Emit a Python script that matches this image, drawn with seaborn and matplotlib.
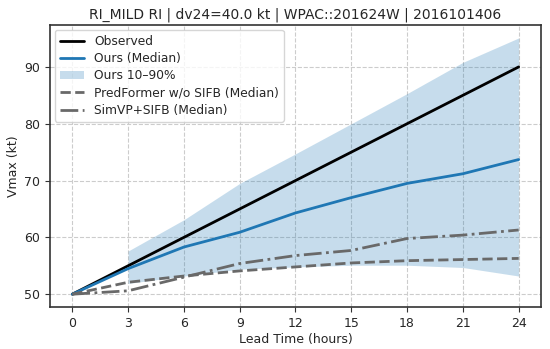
import numpy as np
import pandas as pd
import matplotlib
matplotlib.use("Agg")
import matplotlib.pyplot as plt
import seaborn as sns

lead = [0, 3, 6, 9, 12, 15, 18, 21, 24]
observed = [50, 55, 60, 65, 70, 75, 80, 85, 90]
ours_median = [50, 54.5, 58.3, 60.9, 64.3, 67.0, 69.5, 71.2, 73.7]
band_lead = [3, 6, 9, 12, 15, 18, 21, 24]
ours_p10 = [51.9, 53.2, 54.4, 54.8, 55.1, 55.1, 54.7, 53.2]
ours_p90 = [57.6, 63.1, 69.5, 74.7, 80.0, 85.3, 90.8, 95.1]
predformer = [50, 52.1, 53.2, 54.1, 54.8, 55.5, 55.9, 56.1, 56.3]
simvp = [50, 50.6, 53.0, 55.4, 56.8, 57.7, 59.8, 60.4, 61.3]

sns.set_style("ticks")
plt.rcParams['font.family'] = ['DejaVu Sans']

fig = plt.figure(figsize=(5.5, 3.49), dpi=100)
ax = fig.add_axes([0.0909, 0.1203, 0.8927, 0.8077])

df = pd.DataFrame({"lead": lead, "obs": observed, "med": ours_median,
                   "pf": predformer, "sv": simvp})

sns.lineplot(data=df, x="lead", y="obs", ax=ax, color="black", lw=2, label="Observed")
sns.lineplot(data=df, x="lead", y="med", ax=ax, color="#1f77b4", lw=2, label="Ours (Median)")
ax.fill_between(band_lead, ours_p10, ours_p90, color="#1f77b4", alpha=0.25, lw=0,
                label="Ours 10\u201390%")
sns.lineplot(data=df, x="lead", y="pf", ax=ax, color="dimgray", lw=2, ls="--",
             label="PredFormer w/o SIFB (Median)")
sns.lineplot(data=df, x="lead", y="sv", ax=ax, color="dimgray", lw=2, ls="-.",
             label="SimVP+SIFB (Median)")

ax.set_xticks(lead)
ax.set_yticks([50, 60, 70, 80, 90])
ax.grid(True, ls="--", color="#cccccc", lw=0.8)
ax.set_xlabel("Lead Time (hours)", fontsize=9, labelpad=2)
ax.set_ylabel("Vmax (kt)", fontsize=9, labelpad=3)
ax.set_title("RI_MILD RI | dv24=40.0 kt | WPAC::201624W | 2016101406", fontsize=10, pad=5)
ax.tick_params(labelsize=9, length=3.5, color="#333333")
for s in ax.spines.values():
    s.set_color("#333333")
    s.set_linewidth(1.2)
ax.legend(loc="upper left", fontsize=8.8, frameon=True, labelspacing=0.35,
          borderaxespad=0.4)

fig.savefig("out.png", dpi=100)
